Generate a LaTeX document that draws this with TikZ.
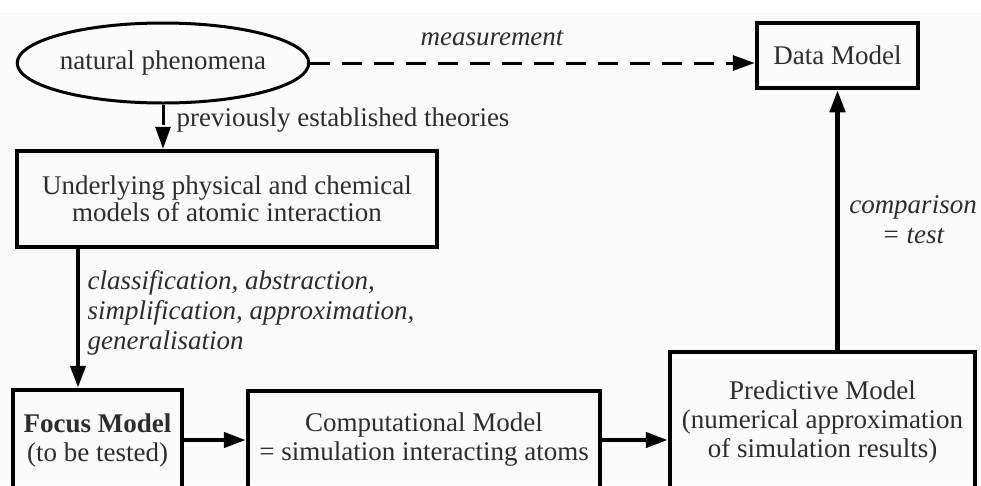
\documentclass[tikz,border=0pt]{standalone}
\usepackage{fontspec}
\setmainfont{Liberation Serif}
\usepackage{tikz}
\usetikzlibrary{arrows.meta,shapes.geometric}
\definecolor{paper}{RGB}{250,251,250}
\definecolor{ink}{RGB}{45,45,45}

\begin{document}
\begin{tikzpicture}[
x=1pt,y=-1pt,
font=\fontsize{27}{29}\selectfont,
every node/.append style={text=ink},
model/.style={draw=black,line width=4.5pt,rectangle,inner sep=0pt,align=center},
flow/.style={-{Triangle[length=22pt,width=15pt]},line width=4.5pt},
probe/.style={flow,line width=3pt,dash pattern=on 20pt off 12pt},
note/.style={font=\fontsize{27}{30}\selectfont\itshape}]
    % frame
    \useasboundingbox (0,0) rectangle (981,485);
    \clip (0,0) rectangle (981,485);
    \fill[paper] (0,12) rectangle (981,485);

    % models
    \node[ellipse,draw=black,line width=3pt,minimum width=290pt,minimum height=80pt,inner sep=0pt] (phen) at (163,63) {natural phenomena};
    \node[model,minimum width=161pt,minimum height=65pt] (data) at (837.5,55.5) {Data Model};
    \node[model,minimum width=420pt,minimum height=96pt,font=\fontsize{27}{27}\selectfont] (under) at (227,199) {Underlying physical and chemical\\models of atomic interaction};
    \node[model,minimum width=169pt,minimum height=100pt] (focus) at (97.5,440) {\textbf{Focus Model}\\(to be tested)};
    \node[model,minimum width=352pt,minimum height=98pt] (comp) at (424,440) {Computational Model\\= simulation interacting atoms};
    \node[model,minimum width=305pt,minimum height=140pt] (pred) at (822.5,422) {Predictive Model\\(numerical approximation\\of simulation results)};

    % labels
    \node[note] (meas) at (492,38) {measurement};
    \node[anchor=west] (prev) at (173,120) {previously established theories};
    \node[note,anchor=west,align=left] (abstr) at (84,313) {classification, abstraction,\\simplification, approximation,\\generalisation};
    \node[note,align=center] (test) at (913,220) {comparison\\= test};

    % arrows
    \coordinate (drop) at (78,0);
    \draw[probe] (phen.east) -- (phen.east -| data.west);
    \draw[probe] (phen.south) -- (phen.south |- under.north);
    \draw[flow] (under.south -| drop) -- (focus.north -| drop);
    \draw[flow] (focus.east) -- (comp.west);
    \draw[flow] (comp.east) -- (pred.west |- comp.east);
    \draw[flow] (pred.north -| data.south) -- (data.south);

\end{tikzpicture}
\end{document}
